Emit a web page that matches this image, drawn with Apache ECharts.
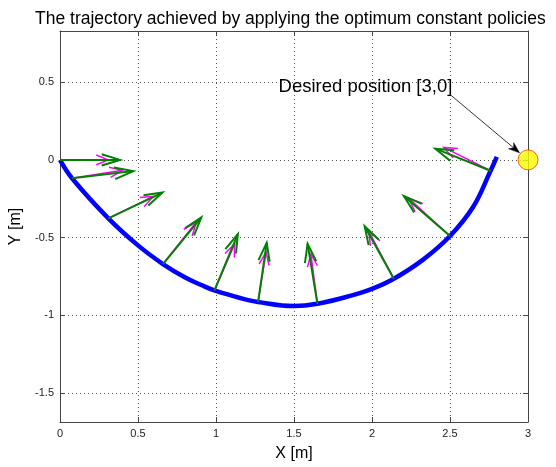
<!DOCTYPE html>
<html>
<head>
<meta charset="utf-8">
<script src="https://cdn.jsdelivr.net/npm/echarts@6/dist/echarts.min.js"></script>
<style>
  html, body { margin: 0; padding: 0; background: #fff; }
  #chart { width: 556px; height: 467px; }
</style>
</head>
<body>
<div id="chart"></div>
<script>
// Path followed by the robot (X, Y in metres)
const trajX = [0, 0.077, 0.31, 0.5, 0.66, 0.8, 0.906, 0.99, 1.16, 1.27, 1.5, 1.65, 1.86, 2.0, 2.14, 2.33, 2.5, 2.65, 2.76, 2.80];
const trajY = [0, -0.118, -0.376, -0.55, -0.67, -0.755, -0.805, -0.84, -0.89, -0.914, -0.94, -0.925, -0.875, -0.83, -0.765, -0.64, -0.49, -0.30, -0.07, 0.02];

// Policy arrows: common base points on the path
const arrowX0 = [0, 0.077, 0.31, 0.66, 0.99, 1.27, 1.65, 2.14, 2.50, 2.76];
const arrowY0 = [0, -0.118, -0.376, -0.67, -0.84, -0.914, -0.925, -0.765, -0.49, -0.07];
// green arrow tips
const greenX1 = [0.385, 0.47, 0.657, 0.906, 1.14, 1.325, 1.587, 1.953, 2.204, 2.406];
const greenY1 = [0, -0.072, -0.21, -0.37, -0.477, -0.534, -0.54, -0.427, -0.232, 0.072];
// magenta arrow tips
const magentaX1 = [0.31, 0.40, 0.598, 0.874, 1.12, 1.321, 1.608, 1.98, 2.234, 2.46];
const magentaY1 = [0, -0.067, -0.235, -0.40, -0.54, -0.594, -0.605, -0.46, -0.246, 0.08];

// Goal and its annotation
const goal = [3, 0];
const noteText = 'Desired position [3,0]';
const noteAnchor = [2.515, 0.47];
const noteArrowFrom = [2.502, 0.419];

const yTicks = [-1.5, -1, -0.5, 0, 0.5];

const FONT = 'Liberation Sans, Arial, Helvetica, sans-serif';

function zipArrows(x0, y0, x1, y1) {
  return x0.map((v, i) => [v, y0[i], x1[i], y1[i]]);
}

// Quiver-style arrow: shaft plus two open barbs
function arrowRenderer(color, width, headRatio, headAngle) {
  return function (params, api) {
    const p0 = api.coord([api.value(0), api.value(1)]);
    const p1 = api.coord([api.value(2), api.value(3)]);
    const dx = p1[0] - p0[0], dy = p1[1] - p0[1];
    const len = Math.sqrt(dx * dx + dy * dy);
    const ang = Math.atan2(dy, dx);
    const hl = len * headRatio;
    const a1 = ang + Math.PI - headAngle, a2 = ang + Math.PI + headAngle;
    const b1 = [p1[0] + hl * Math.cos(a1), p1[1] + hl * Math.sin(a1)];
    const b2 = [p1[0] + hl * Math.cos(a2), p1[1] + hl * Math.sin(a2)];
    const style = { stroke: color, lineWidth: width, fill: null };
    return {
      type: 'group',
      children: [
        { type: 'line', shape: { x1: p0[0], y1: p0[1], x2: p1[0], y2: p1[1] }, style: style },
        { type: 'polyline', shape: { points: [b1, p1, b2] }, style: style }
      ]
    };
  };
}

const gridLine = { show: true, lineStyle: { color: '#555', width: 1, type: [1, 3] } };
const axisLine = { show: true, onZero: false, lineStyle: { color: '#444', width: 1 } };
const tickLabel = { fontFamily: FONT, fontSize: 11, color: '#222' };

const chart = echarts.init(document.getElementById('chart'), null, { renderer: 'canvas' });

chart.setOption({
  animation: false,
  backgroundColor: '#fff',
  title: {
    text: 'The trajectory achieved by applying the optimum constant policies',
    left: 30,
    top: 5,
    textStyle: { fontFamily: FONT, fontSize: 17.5, fontWeight: 'normal', color: '#000' }
  },
  grid: { left: 58, right: 28, top: 31, bottom: 43, show: false },
  xAxis: [
    {
      type: 'value', min: 0, max: 3, interval: 0.5, position: 'bottom',
      name: 'X [m]', nameLocation: 'middle', nameGap: 24,
      nameTextStyle: { fontFamily: FONT, fontSize: 16, color: '#000' },
      axisLine: axisLine,
      axisTick: { show: true, inside: true, length: 5, lineStyle: { color: '#444' } },
      axisLabel: Object.assign({ margin: 6, formatter: v => String(v) }, tickLabel),
      splitLine: gridLine
    },
    {
      type: 'value', min: 0, max: 3, interval: 0.5, position: 'top',
      axisLine: axisLine,
      axisTick: { show: true, inside: true, length: 5, lineStyle: { color: '#444' } },
      axisLabel: { show: false },
      splitLine: { show: false }
    }
  ],
  yAxis: [
    {
      type: 'value', min: -1.686, max: 0.829, position: 'left',
      name: 'Y [m]', nameLocation: 'middle', nameGap: 36,
      nameTextStyle: { fontFamily: FONT, fontSize: 16, color: '#000' },
      axisLine: axisLine,
      axisTick: { show: true, inside: true, length: 5, customValues: yTicks, lineStyle: { color: '#444' } },
      axisLabel: Object.assign({ margin: 6, customValues: yTicks, formatter: v => String(v) }, tickLabel),
      splitLine: Object.assign({ customValues: yTicks }, gridLine)
    },
    {
      type: 'value', min: -1.686, max: 0.829, position: 'right',
      axisLine: axisLine,
      axisTick: { show: true, inside: true, length: 5, customValues: yTicks, lineStyle: { color: '#444' } },
      axisLabel: { show: false },
      splitLine: { show: false }
    }
  ],
  series: [
    {
      name: 'trajectory', type: 'line', xAxisIndex: 0, yAxisIndex: 0,
      data: trajX.map((x, i) => [x, trajY[i]]),
      smooth: 0.4, showSymbol: false,
      lineStyle: { color: '#0000ff', width: 4.5 },
      z: 3
    },
    {
      name: 'magenta policy', type: 'custom', xAxisIndex: 0, yAxisIndex: 0,
      data: zipArrows(arrowX0, arrowY0, magentaX1, magentaY1),
      renderItem: arrowRenderer('#ff00ff', 1.5, 0.27, 0.38),
      z: 4
    },
    {
      name: 'green policy', type: 'custom', xAxisIndex: 0, yAxisIndex: 0,
      data: zipArrows(arrowX0, arrowY0, greenX1, greenY1),
      renderItem: arrowRenderer('#008000', 2, 0.32, 0.3),
      z: 5
    },
    {
      name: 'goal', type: 'scatter', xAxisIndex: 0, yAxisIndex: 0,
      data: [goal], symbol: 'circle', symbolSize: 20, clip: false,
      itemStyle: { color: '#ffff00', borderColor: '#ff3300', borderWidth: 1 },
      z: 6
    },
    {
      name: 'annotation', type: 'custom', xAxisIndex: 0, yAxisIndex: 0,
      data: [[noteAnchor[0], noteAnchor[1], noteArrowFrom[0], noteArrowFrom[1], goal[0], goal[1]]],
      clip: false,
      renderItem: function (params, api) {
        const t = api.coord([api.value(0), api.value(1)]);
        const a = api.coord([api.value(2), api.value(3)]);
        const g = api.coord([api.value(4), api.value(5)]);
        // stop the arrow at the edge of the goal marker
        const dx = g[0] - a[0], dy = g[1] - a[1];
        const L = Math.sqrt(dx * dx + dy * dy);
        const ux = dx / L, uy = dy / L;
        const e = [g[0] - ux * 11, g[1] - uy * 11];
        const hl = 11, hw = 4;
        const base = [e[0] - ux * hl, e[1] - uy * hl];
        const notch = [e[0] - ux * hl * 0.7, e[1] - uy * hl * 0.7];
        const h1 = [base[0] - uy * hw, base[1] + ux * hw];
        const h2 = [base[0] + uy * hw, base[1] - ux * hw];
        return {
          type: 'group',
          children: [
            { type: 'text', x: t[0], y: t[1],
              style: { text: noteText, fontFamily: FONT, fontSize: 18.5, fill: '#000',
                       align: 'right', verticalAlign: 'middle' } },
            { type: 'line', shape: { x1: a[0], y1: a[1], x2: notch[0], y2: notch[1] },
              style: { stroke: '#333', lineWidth: 1 } },
            { type: 'polygon', shape: { points: [e, h1, notch, h2] },
              style: { fill: '#000', stroke: '#000', lineWidth: 0.5 } }
          ]
        };
      },
      z: 7
    }
  ]
});
</script>
</body>
</html>
